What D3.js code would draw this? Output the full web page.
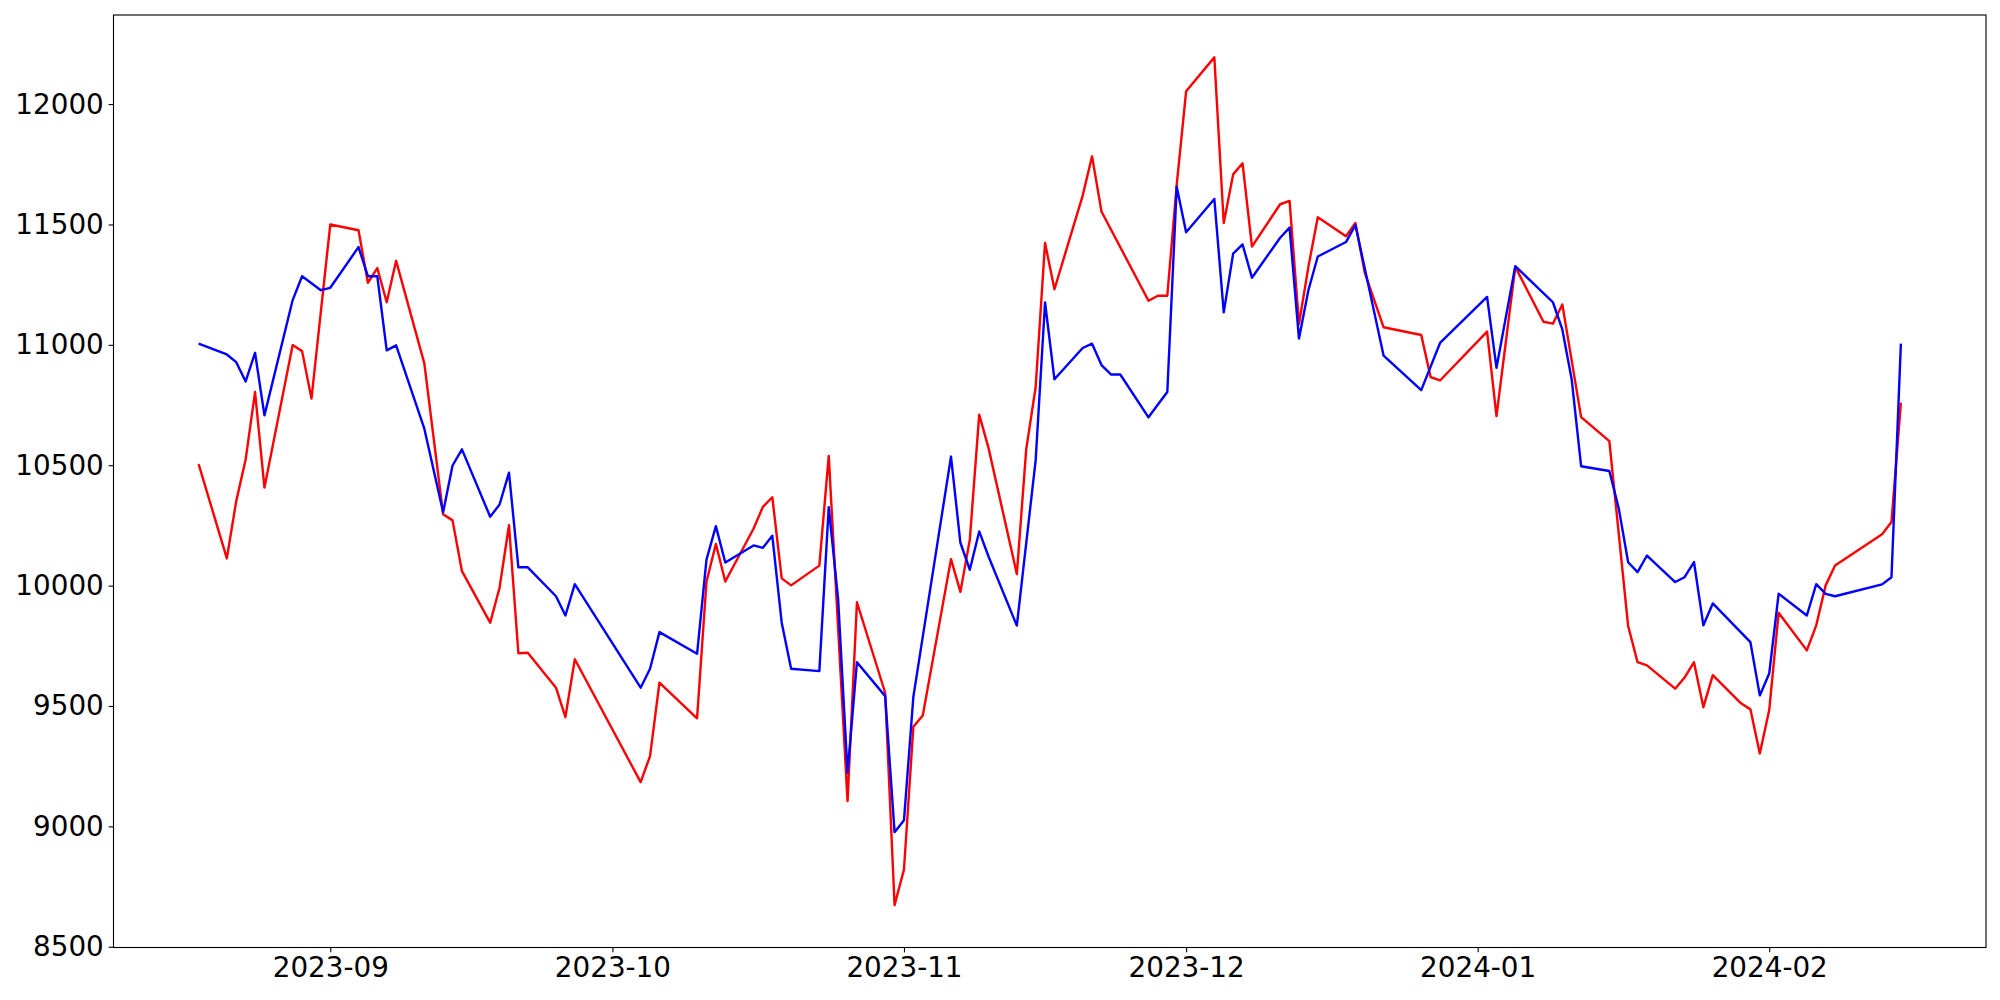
<!DOCTYPE html>
<html>
<head>
<meta charset="utf-8">
<script src="https://cdn.jsdelivr.net/npm/d3@7"></script>
<style>
  html, body { margin: 0; padding: 0; background: #fff; }
  svg { display: block; }
  .tick text { font-family: "DejaVu Sans", sans-serif; font-size: 27.8px; fill: #000; }
  .tick line { stroke: #000; stroke-width: 1.1px; }
</style>
</head>
<body>
<svg id="chart"></svg>
<script>
// trading days (null = no visible vertex for that series)
const dates = [
  '2023-08-18', '2023-08-21', '2023-08-22', '2023-08-23', '2023-08-24', '2023-08-25',
  '2023-08-28', '2023-08-29', '2023-08-30', '2023-08-31', '2023-09-01',
  '2023-09-04', '2023-09-05', '2023-09-06', '2023-09-07', '2023-09-08',
  '2023-09-11', '2023-09-12', '2023-09-13', '2023-09-14', '2023-09-15',
  '2023-09-18', '2023-09-19', '2023-09-20', '2023-09-21', '2023-09-22',
  '2023-09-25', '2023-09-26', '2023-09-27',
  '2023-10-04', '2023-10-05', '2023-10-06',
  '2023-10-10', '2023-10-11', '2023-10-12', '2023-10-13',
  '2023-10-16', '2023-10-17', '2023-10-18', '2023-10-19', '2023-10-20',
  '2023-10-23', '2023-10-24', '2023-10-25', '2023-10-26', '2023-10-27',
  '2023-10-30', '2023-10-31', '2023-11-01', '2023-11-02', '2023-11-03',
  '2023-11-06', '2023-11-07', '2023-11-08', '2023-11-09', '2023-11-10',
  '2023-11-13', '2023-11-14', '2023-11-15', '2023-11-16', '2023-11-17',
  '2023-11-20', '2023-11-21', '2023-11-22', '2023-11-23', '2023-11-24',
  '2023-11-27', '2023-11-28', '2023-11-29', '2023-11-30', '2023-12-01',
  '2023-12-04', '2023-12-05', '2023-12-06', '2023-12-07', '2023-12-08',
  '2023-12-11', '2023-12-12', '2023-12-13', '2023-12-14', '2023-12-15',
  '2023-12-18', '2023-12-19', '2023-12-20', '2023-12-21', '2023-12-22',
  '2023-12-26', '2023-12-27', '2023-12-28',
  '2024-01-02', '2024-01-03', '2024-01-04', '2024-01-05',
  '2024-01-08', '2024-01-09', '2024-01-10', '2024-01-11', '2024-01-12',
  '2024-01-15', '2024-01-16', '2024-01-17', '2024-01-18', '2024-01-19',
  '2024-01-22', '2024-01-23', '2024-01-24', '2024-01-25', '2024-01-26',
  '2024-01-29', '2024-01-30', '2024-01-31', '2024-02-01', '2024-02-02',
  '2024-02-05', '2024-02-06', '2024-02-07', '2024-02-08',
  '2024-02-13', '2024-02-14', '2024-02-15'
];

const redValues = [
  10505, 10113, 10351, 10524, 10804, 10407,
  10999, 10974, 10777, null, 11500,
  11476, 11258, 11319, 11177, 11349,
  10923, null, 10296, 10271, 10060,
  9846, 9991, 10251, 9719, 9721,
  9576, 9454, 9694,
  9184, 9292, 9597,
  9449, 10016, 10173, 10017,
  10236, 10327, 10367, 10030, 10001,
  10083, 10539, null, 9105, 9931,
  9555, 8673, 8821, 9414, 9461,
  10110, 9974, 10191, 10710, 10570,
  10048, 10567, 10824, 11423, 11231,
  11620, 11783, 11554, null, null,
  11183, 11204, 11204, 11665, 12053,
  12194, 11506, 11708, 11754, 11408,
  11584, 11598, 11086, 11324, 11530,
  11451, 11506, 11299, null, 11073,
  11041, 10866, 10852,
  11055, 10704, null, 11324,
  11096, 11088, 11168, null, 10700,
  10600, null, 9832, 9682, 9669,
  9572, 9618, 9682, 9495, 9628,
  9511, 9486, 9303, 9483, 9887,
  9731, 9835, 10001, 10084,
  10213, 10264, 10760
];

const blueValues = [
  11005, 10960, 10928, 10848, 10967, 10707,
  11186, 11285, null, 11227, 11237,
  11406, 11285, 11285, 10977, 10998,
  10652, null, 10305, 10499, 10566,
  10286, 10337, 10469, 10076, 10076,
  9956, 9876, 10006,
  9576, 9655, 9807,
  9717, 10108, 10247, 10096,
  10167, 10157, 10207, 9846, 9655,
  9645, 10326, 9943, 9223, 9682,
  9541, 8976, 9025, 9539, null,
  10536, 10178, 10066, 10225, 10120,
  9834, null, 10520, 11176, 10857,
  10987, 11005, 10916, 10877, 10877,
  10699, 10752, 10804, 11657, 11468,
  11606, 11135, 11379, 11417, 11279,
  11445, 11487, 11026, 11227, 11367,
  11427, 11498, null, null, 10955,
  10812, null, 11008,
  11199, 10905, null, 11327,
  null, 11177, 11064, 10856, 10496,
  10476, 10321, 10097, 10056, 10125,
  10015, 10035, 10098, 9835, 9926,
  null, 9765, 9544, 9635, 9966,
  9876, 10006, 9966, 9956,
  10005, 10035, 11005
];

const yTicks = [8500, 9000, 9500, 10000, 10500, 11000, 11500, 12000];
const monthTicks = ['2023-09-01', '2023-10-01', '2023-11-01', '2023-12-01', '2024-01-01', '2024-02-01'];

const width = 2000;
const height = 1000;
const margin = { left: 113.5, top: 15, right: 14, bottom: 52.5 };
const pt = 100 / 72; // matplotlib points -> px

function makeLineChart() {
  const parse = d3.utcParse('%Y-%m-%d');
  const x0 = margin.left;
  const x1 = width - margin.right;
  const y0 = margin.top;
  const y1 = height - margin.bottom;

  const chart = d3.select('#chart')
    .attr('width', width)
    .attr('height', height);

  chart.append('rect')
    .attr('width', width)
    .attr('height', height)
    .attr('fill', '#fff');

  const red = dates.map((d, i) => ({ date: parse(d), value: redValues[i] })).filter(d => d.value != null);
  const blue = dates.map((d, i) => ({ date: parse(d), value: blueValues[i] })).filter(d => d.value != null);

  // 5% margins like matplotlib autoscale
  const xExt = d3.extent(dates, d => parse(d));
  const xPad = (xExt[1] - xExt[0]) * 0.05;
  const yExt = d3.extent(redValues.concat(blueValues).filter(v => v != null));
  const yPad = (yExt[1] - yExt[0]) * 0.05;

  const xScale = d3.scaleUtc()
    .domain([new Date(+xExt[0] - xPad), new Date(+xExt[1] + xPad)])
    .range([x0, x1]);

  const yScale = d3.scaleLinear()
    .domain([yExt[0] - yPad, yExt[1] + yPad])
    .range([y1, y0]);

  const line = d3.line()
    .x(d => xScale(d.date))
    .y(d => yScale(d.value));

  chart.append('path')
    .datum(red)
    .attr('fill', 'none')
    .attr('stroke', '#ff0000')
    .attr('stroke-width', 2.4)
    .attr('stroke-linejoin', 'round')
    .attr('d', line);

  chart.append('path')
    .datum(blue)
    .attr('fill', 'none')
    .attr('stroke', '#0000ff')
    .attr('stroke-width', 2.4)
    .attr('stroke-linejoin', 'round')
    .attr('d', line);

  // Axes
  const xAxis = d3.axisBottom(xScale)
    .tickValues(monthTicks.map(parse))
    .tickFormat(d3.utcFormat('%Y-%m'))
    .tickSizeInner(3.5 * pt)
    .tickSizeOuter(0)
    .tickPadding(3.5 * pt);

  const yAxis = d3.axisLeft(yScale)
    .tickValues(yTicks)
    .tickFormat(d3.format('d'))
    .tickSizeInner(3.5 * pt)
    .tickSizeOuter(0)
    .tickPadding(3.5 * pt);

  chart.append('g')
    .attr('transform', `translate(0, ${y1})`)
    .call(xAxis)
    .call(g => g.select('.domain').remove());

  chart.append('g')
    .attr('transform', `translate(${x0}, 0)`)
    .call(yAxis)
    .call(g => g.select('.domain').remove());

  // frame
  chart.append('rect')
    .attr('x', x0)
    .attr('y', y0)
    .attr('width', x1 - x0)
    .attr('height', y1 - y0)
    .attr('fill', 'none')
    .attr('stroke', '#000')
    .attr('stroke-width', 0.8 * pt);
}

makeLineChart();
</script>
</body>
</html>
